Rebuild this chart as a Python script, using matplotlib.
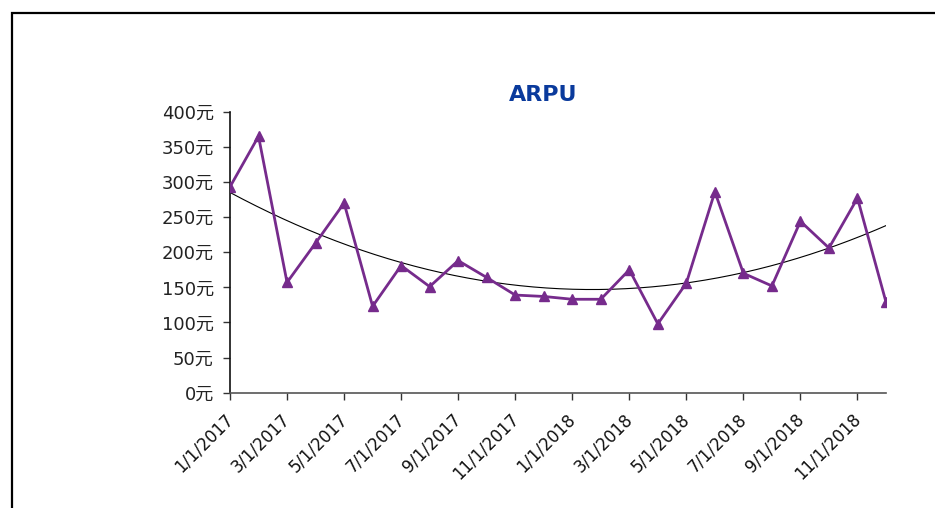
import matplotlib
matplotlib.use("Agg")
import matplotlib.pyplot as plt
import numpy as np
from matplotlib.patches import Rectangle
from matplotlib.transforms import Bbox, ScaledTranslation

months = ["1/1/2017", "2/1/2017", "3/1/2017", "4/1/2017", "5/1/2017", "6/1/2017",
          "7/1/2017", "8/1/2017", "9/1/2017", "10/1/2017", "11/1/2017", "12/1/2017",
          "1/1/2018", "2/1/2018", "3/1/2018", "4/1/2018", "5/1/2018", "6/1/2018",
          "7/1/2018", "8/1/2018", "9/1/2018", "10/1/2018", "11/1/2018", "12/1/2018"]
arpu = [293, 365, 157, 213, 270, 123, 181, 151, 188, 164, 139, 137,
        133, 133, 175, 98, 156, 286, 170, 152, 244, 206, 277, 129]
y_ticks = [0, 50, 100, 150, 200, 250, 300, 350, 400]
y_tick_labels = [f"{v}元" for v in y_ticks]

W, H = 935, 508
fig = plt.figure(figsize=(W / 100, H / 100), dpi=100)

# outer chart border (left + top visible)
fig.patches.append(Rectangle((11.5 / W, -0.2), (940 - 11.5) / W, (H - 12.5) / H + 0.2,
                             transform=fig.transFigure, fill=False,
                             edgecolor="black", linewidth=1.6))

ax = fig.add_axes([230 / W, (H - 392.7) / H, (886 - 230) / W, (392.7 - 111.7) / H])
x = np.arange(len(arpu))

ax.plot(x, arpu, color="#762B8C", linewidth=2.0, marker="^", markersize=6.5,
        markeredgecolor="#762B8C", markerfacecolor="#762B8C", zorder=3)

# polynomial (order 2) trendline
coef = np.polyfit(x, arpu, 2)
xt = np.linspace(0, len(arpu) - 1, 200)
ax.plot(xt, np.polyval(coef, xt), color="black", linewidth=0.8, zorder=2)

ax.set_xlim(0, len(arpu) - 1)
ax.set_ylim(0, 400)
ax.tick_params(axis="both", direction="out", length=4.7, width=1, color="#333333")
ax.tick_params(axis="x", pad=4)
ax.tick_params(axis="y", pad=7)
ax.set_yticks(y_ticks)
ax.set_yticklabels(y_tick_labels, family=["DejaVu Sans", "Noto Sans CJK SC"],
                   fontsize=13, color="#222222")
ax.set_xticks(x[::2])
ax.set_xticklabels(months[::2], rotation=45, ha="right", va="top",
                   rotation_mode="anchor", fontsize=12, color="#111111",
                   family="DejaVu Sans")

for s in ["top", "right"]:
    ax.spines[s].set_visible(False)
ax.spines["left"].set_color("#111111")
ax.spines["bottom"].set_color("#555555")
ax.spines["left"].set_linewidth(1.2)
ax.spines["bottom"].set_linewidth(1.2)

offset = ScaledTranslation(-6 / 100, -5 / 100, fig.dpi_scale_trans)
clip = Bbox.from_extents(0, 28, W, H)
for lab in ax.get_xticklabels():
    lab.set_transform(lab.get_transform() + offset)
    lab.set_clip_box(clip)
    lab.set_clip_on(True)

fig.text(543 / W, (H - 95) / H, "ARPU", ha="center", va="center",
         fontsize=16, fontweight="bold", color="#0A3A9C", family="DejaVu Sans")

fig.savefig("out.png", dpi=100)
